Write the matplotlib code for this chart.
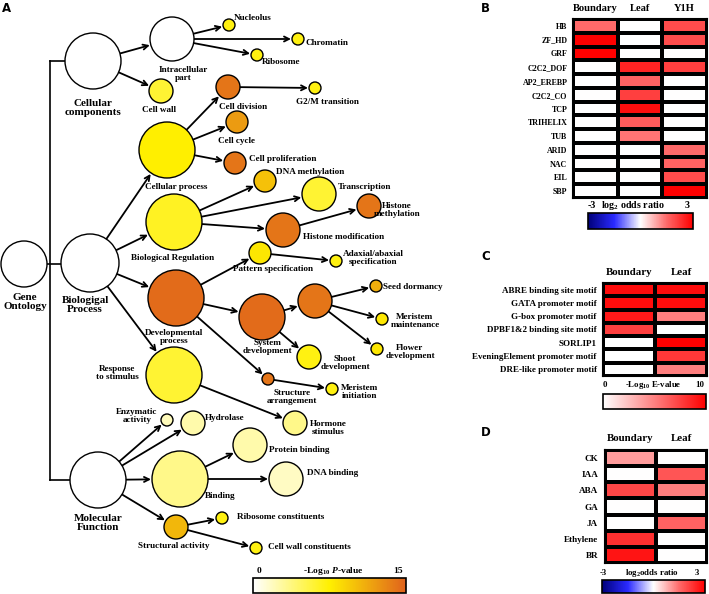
import numpy as np
import matplotlib.pyplot as plt
from matplotlib.patches import Circle
from matplotlib.colors import LinearSegmentedColormap, Normalize

plt.rcParams['font.family'] = ['Liberation Serif', 'DejaVu Serif']
plt.rcParams['font.weight'] = 'bold'
plt.rcParams['mathtext.fontset'] = 'custom'
plt.rcParams['mathtext.rm'] = 'Liberation Serif:bold'
plt.rcParams['mathtext.it'] = 'Liberation Serif:italic:bold'
plt.rcParams['mathtext.bf'] = 'Liberation Serif:bold'

# ---------------- data ----------------
# Panel A: GO terms, -log10 P-value (0 = white / category node)
go_ids = ["GO", "CC", "BP", "MF", "IP", "CW", "NU", "CH", "RB", "CP", "CD", "G2", "CY", "CF",
          "BR", "DM", "TR", "HM", "HME", "DP", "PS", "AD", "SD", "SD2", "SE", "MM", "FD", "SH",
          "SA", "MI", "RS", "HS", "EA", "HY", "BI", "PB", "DB", "ST", "RC", "CWC"]
go_logp = [0, 0, 0, 0, 0, 6, 7, 7, 7, 7.5, 14, 7, 12, 14,
           6.5, 10, 6, 14, 14, 14.5, 8, 7, 14.5, 14, 11, 8, 8, 7,
           14, 7, 6, 3.5, 2, 2.5, 3.5, 2.5, 1.8, 10.5, 7, 7]
go_edges = [("CC", "IP"), ("CC", "CW"), ("IP", "NU"), ("IP", "CH"), ("IP", "RB"),
            ("BP", "CP"), ("BP", "BR"), ("BP", "DP"), ("BP", "RS"),
            ("CP", "CD"), ("CP", "CY"), ("CP", "CF"), ("CD", "G2"),
            ("BR", "DM"), ("BR", "TR"), ("BR", "HM"), ("HM", "HME"),
            ("DP", "PS"), ("DP", "SD"), ("DP", "SA"), ("PS", "AD"),
            ("SD", "SD2"), ("SD", "SH"), ("SD2", "SE"), ("SD2", "MM"), ("SD2", "FD"),
            ("SA", "MI"), ("RS", "HS"),
            ("MF", "EA"), ("MF", "HY"), ("MF", "BI"), ("MF", "ST"),
            ("BI", "PB"), ("BI", "DB"), ("ST", "RC"), ("ST", "CWC")]

# Panel B: TF family enrichment, log2 odds ratio
tf_families = ["HB", "ZF_HD", "GRF", "C2C2_DOF", "AP2_EREBP", "C2C2_CO", "TCP",
               "TRIHELIX", "TUB", "ARID", "NAC", "EIL", "SBP"]
tf_columns = ["Boundary", "Leaf", "Y1H"]
tf_boundary = [1.5, 3.0, 3.0, 0, 0, 0, 0, 0, 0, 0, 0, 0, 0]
tf_leaf = [0, 0, 0, 2.5, 1.6, 2.1, 2.8, 1.7, 1.4, 0, 0, 0, 0]
tf_y1h = [1.9, 1.9, 0, 2.1, 0, 0, 0, 0, 0, 1.5, 1.6, 1.9, 3.0]

# Panel C: promoter motifs, -log10 E-value
motifs = ["ABRE binding site motif", "GATA promoter motif", "G-box promoter motif",
          "DPBF1&2 binding site motif", "SORLIP1", "EveningElement promoter motif",
          "DRE-like promoter motif"]
motif_columns = ["Boundary", "Leaf"]
motif_boundary = [9.5, 9.5, 9.0, 7.5, 0, 0, 0]
motif_leaf = [9.5, 9.5, 5.0, 0, 10, 7.8, 5.0]

# Panel D: hormone-related genes, log2 odds ratio
hormones = ["CK", "IAA", "ABA", "GA", "JA", "Ethylene", "BR"]
hormone_columns = ["Boundary", "Leaf"]
hormone_boundary = [1.0, 0, 2.0, 0, 0, 2.3, 2.7]
hormone_leaf = [0, 1.8, 1.3, 0, 1.6, 0, 0]

# ---------------- layout (figure pixels) ----------------
W, H = 709, 594
node_xyr = {
    "GO": (24, 264, 23), "CC": (93, 61, 28), "BP": (90, 263, 29), "MF": (98, 480, 28),
    "IP": (172, 39, 22), "CW": (161, 91, 12), "NU": (229, 25, 6), "CH": (298, 39, 6),
    "RB": (257, 55, 6), "CP": (167, 150, 28), "CD": (228, 87, 12), "G2": (315, 88, 6),
    "CY": (237, 122, 11), "CF": (235, 163, 11), "BR": (174, 222, 28), "DM": (265, 181, 11),
    "TR": (319, 194, 17), "HM": (283, 230, 17), "HME": (369, 206, 12), "DP": (176, 298, 28),
    "PS": (260, 253, 11), "AD": (336, 261, 6), "SD": (262, 317, 23), "SD2": (315, 301, 17),
    "SE": (376, 286, 6), "MM": (382, 319, 6), "FD": (377, 349, 6), "SH": (309, 357, 12),
    "SA": (268, 379, 6), "MI": (332, 389, 6), "RS": (174, 375, 28), "HS": (295, 423, 12),
    "EA": (167, 420, 6), "HY": (193, 423, 12), "BI": (180, 479, 28), "PB": (250, 445, 17),
    "DB": (286, 479, 17), "ST": (176, 527, 12), "RC": (222, 518, 6), "CWC": (256, 548, 6),
}
big = 8.0
small = 6.6
node_labels = {
    "GO": ("Gene\nOntology", 25, 302, "center", big),
    "CC": ("Cellular\ncomponents", 93, 108, "center", big),
    "BP": ("Biologigal\nProcess", 85, 305, "center", big),
    "MF": ("Molecular\nFunction", 98, 523, "center", big),
    "IP": ("Intracellular\npart", 183, 74, "center", small),
    "CW": ("Cell wall", 159, 110, "center", small),
    "NU": ("Nucleolus", 234, 18, "left", small),
    "CH": ("Chromatin", 306, 43, "left", small),
    "RB": ("Ribosome", 262, 62, "left", small),
    "CP": ("Cellular process", 176, 187, "center", small),
    "CD": ("Cell division", 243, 107, "center", small),
    "G2": ("G2/M transition", 327, 102, "center", small),
    "CY": ("Cell cycle", 237, 141, "center", small),
    "CF": ("Cell proliferation", 249, 159, "left", small),
    "BR": ("Biological Regulation", 173, 258, "center", small),
    "DM": ("DNA methylation", 276, 172, "left", small),
    "TR": ("Transcription", 338, 187, "left", small),
    "HM": ("Histone modification", 303, 237, "left", small),
    "HME": ("Histone\nmethylation", 397, 210, "center", small),
    "DP": ("Developmental\nprocess", 174, 337, "center", small),
    "PS": ("Pattern specification", 273, 269, "center", small),
    "AD": ("Adaxial/abaxial\nspecification", 373, 258, "center", small),
    "SD": ("System\ndevelopment", 267, 347, "center", small),
    "SE": ("Seed dormancy", 383, 287, "left", small),
    "MM": ("Meristem\nmaintenance", 415, 321, "center", small),
    "FD": ("Flower\ndevelopment", 410, 352, "center", small),
    "SH": ("Shoot\ndevelopment", 345, 363, "center", small),
    "SA": ("Structure\narrangement", 292, 397, "center", small),
    "MI": ("Meristem\ninitiation", 360, 392, "center", small),
    "RS": ("Response\nto stimulus", 117, 373, "center", small),
    "HS": ("Hormone\nstimulus", 328, 428, "center", small),
    "EA": ("Enzymatic\nactivity", 137, 416, "center", small),
    "HY": ("Hydrolase", 205, 418, "left", small),
    "BI": ("Binding", 205, 496, "left", small),
    "PB": ("Protein binding", 269, 450, "left", small),
    "DB": ("DNA binding", 307, 473, "left", small),
    "ST": ("Structural activity", 174, 546, "center", small),
    "RC": ("Ribosome constituents", 237, 517, "left", small),
    "CWC": ("Cell wall constituents", 268, 547, "left", small),
}

go_cmap = LinearSegmentedColormap.from_list(
    "go", [(0, "#ffffff"), (0.5, "#fff000"), (1.0, "#e0621c")])
go_norm = Normalize(0, 15)
rb_cmap = LinearSegmentedColormap.from_list(
    "rb", ["#00007a", "#2a2aff", "#ffffff", "#ff6a6a", "#ff0000"])
wr_cmap = LinearSegmentedColormap.from_list("wr", ["#ffffff", "#ff0000"])

fig = plt.figure(figsize=(W / 100, H / 100), dpi=100)
ax = fig.add_axes([0, 0, 1, 1])
ax.set_xlim(0, W)
ax.set_ylim(H, 0)
ax.axis("off")


def px_axes(x0, y0, x1, y1):
    return fig.add_axes([x0 / W, 1 - y1 / H, (x1 - x0) / W, (y1 - y0) / H])


# bracket joining the three GO categories
gx, gy, gr = node_xyr["GO"]
top = node_xyr["CC"]
bot = node_xyr["MF"]
ax.plot([50, 50], [top[1], bot[1]], color="black", lw=1.2)
ax.plot([50, top[0] - top[2]], [top[1], top[1]], color="black", lw=1.2)
ax.plot([50, bot[0] - bot[2]], [bot[1], bot[1]], color="black", lw=1.2)
bp = node_xyr["BP"]
ax.plot([gx + gr, bp[0] - bp[2]], [gy, gy], color="black", lw=1.2)

# arrows
for p, c in go_edges:
    x0, y0, r0 = node_xyr[p]
    x1, y1, r1 = node_xyr[c]
    d = np.hypot(x1 - x0, y1 - y0)
    ux, uy = (x1 - x0) / d, (y1 - y0) / d
    ax.annotate("", xy=(x1 - ux * (r1 + 1), y1 - uy * (r1 + 1)),
                xytext=(x0 + ux * r0, y0 + uy * r0),
                arrowprops=dict(arrowstyle="->", lw=1.3, color="black",
                                shrinkA=0, shrinkB=0, mutation_scale=9))

# nodes
for gid, val in zip(go_ids, go_logp):
    x, y, r = node_xyr[gid]
    ax.add_patch(Circle((x, y), r, facecolor=go_cmap(go_norm(val)),
                        edgecolor="black", lw=1.0, zorder=3))
    if gid in node_labels:
        txt, lx, ly, ha, fs = node_labels[gid]
        ax.text(lx, ly, txt, ha=ha, va="center", fontsize=fs,
                linespacing=1.05, zorder=4)


def heatmap(rect, cols, rows, data, cmap, vmin, vmax, rowsize, colsize, pad):
    hax = px_axes(*rect)
    arr = np.array(data).T
    hax.pcolormesh(arr, cmap=cmap, vmin=vmin, vmax=vmax,
                   edgecolors="black", linewidth=1.5)
    hax.set_xlim(0, len(cols))
    hax.set_ylim(len(rows), 0)
    hax.xaxis.tick_top()
    hax.set_xticks(np.arange(len(cols)) + 0.5, cols, fontsize=colsize)
    hax.set_yticks(np.arange(len(rows)) + 0.5, rows, fontsize=rowsize)
    hax.tick_params(length=0, pad=pad)
    for s in hax.spines.values():
        s.set_linewidth(1.5)
    return hax


def colorbar(rect, cmap, vmin, vmax):
    cax = px_axes(*rect)
    sm = plt.cm.ScalarMappable(norm=Normalize(vmin, vmax), cmap=cmap)
    cb = fig.colorbar(sm, cax=cax, orientation="horizontal")
    cb.set_ticks([])
    cb.outline.set_linewidth(1.2)


heatmap((573, 19, 707, 198), tf_columns, tf_families,
        [tf_boundary, tf_leaf, tf_y1h], rb_cmap, -3, 3, 5.8, 7.6, 4)
heatmap((603, 283, 707, 376), motif_columns, motifs,
        [motif_boundary, motif_leaf], wr_cmap, 0, 10, 6.5, 7.8, 4.5)
heatmap((605, 450, 707, 563), hormone_columns, hormones,
        [hormone_boundary, hormone_leaf], rb_cmap, -3, 3, 6.6, 7.8, 5)

colorbar((253, 578, 406, 593), go_cmap, 0, 15)
colorbar((588, 213, 693, 229), rb_cmap, -3, 3)
colorbar((603, 394, 706, 409), wr_cmap, 0, 10)
colorbar((602, 580, 705, 593), rb_cmap, -3, 3)

cb_labels = [
    ("0", 259, 571, 6.8), ("-Log$_{10}$ $P$-value", 333, 571, 6.8), ("15", 398, 571, 6.8),
    ("-3", 592, 206, 7.2), ("log$_2$ odds ratio", 633, 206, 7.2), ("3", 687, 206, 7.2),
    ("0", 605, 385, 6.3), ("-Log$_{10}$ E-value", 653, 385, 6.3), ("10", 700, 385, 6.3),
    ("-3", 603, 573, 6.3), ("log$_2$odds ratio", 652, 573, 6.3), ("3", 697, 573, 6.3),
]
for t, x, y, fs in cb_labels:
    ax.text(x, y, t, ha="center", va="center", fontsize=fs)

for letter, x, y in [("A", 2, 8), ("B", 481, 8), ("C", 481, 257), ("D", 481, 432)]:
    ax.text(x, y, letter, ha="left", va="center", fontsize=8.5,
            family="DejaVu Sans", weight="bold")

fig.savefig("out.png", dpi=100)
